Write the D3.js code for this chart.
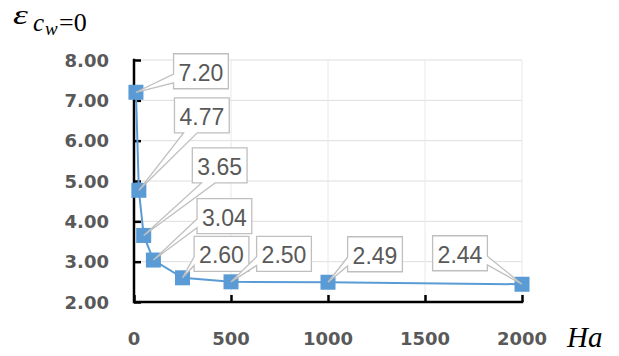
<!DOCTYPE html>
<html>
<head>
<meta charset="utf-8">
<script src="https://cdn.jsdelivr.net/npm/d3@7"></script>
<style>
  html, body { margin: 0; padding: 0; background: #fff; }
  svg { display: block; }
</style>
</head>
<body>
<svg id="chart" width="619" height="356"></svg>
<script>
// Hartmann number and the corresponding efficiency at c_w = 0
const haValues = [10, 25, 50, 100, 250, 500, 1000, 2000];
const epsValues = [7.20, 4.77, 3.65, 3.04, 2.60, 2.50, 2.49, 2.44];
const xTicks = [0, 500, 1000, 1500, 2000];
const yTicks = [2, 3, 4, 5, 6, 7, 8];

// Callout placement: box centre offset (px) from its marker
const calloutOffsets = [[65, -21], [63, -75], [76, -70], [71, -44], [39, -24], [53, -28], [47, -28], [-62, -31]];

const svg = d3.select("#chart");
const plotLeft = 134, plotRight = 522, plotTop = 60, plotBottom = 302;

const x = d3.scaleLinear().domain([0, 2000]).range([plotLeft, plotRight]);
const y = d3.scaleLinear().domain([2, 8]).range([plotBottom, plotTop]);

const blue = "#5B9BD5";
const labelGray = "#595959";

// gridlines
const grid = svg.append("g");
grid.selectAll("line.h").data(yTicks.slice(1)).join("line")
  .attr("class", "h")
  .attr("x1", plotLeft).attr("x2", plotRight)
  .attr("y1", d => y(d)).attr("y2", d => y(d))
  .attr("stroke", "#DEDEDE").attr("stroke-width", 1);
grid.selectAll("line.v").data(xTicks.slice(1)).join("line")
  .attr("class", "v")
  .attr("y1", plotTop).attr("y2", plotBottom)
  .attr("x1", d => x(d)).attr("x2", d => x(d))
  .attr("stroke", "#E8E8E8").attr("stroke-width", 1);

// axes with inward ticks
const xAxis = d3.axisTop(x).tickValues(xTicks).tickSize(7).tickFormat("");
const yAxis = d3.axisRight(y).tickValues(yTicks).tickSize(7).tickFormat("");

const gx = svg.append("g").attr("transform", `translate(0,${plotBottom})`).call(xAxis);
const gy = svg.append("g").attr("transform", `translate(${plotLeft},0)`).call(yAxis);
[gx, gy].forEach(g => {
  g.select(".domain").remove();
  g.selectAll(".tick line").attr("stroke", "#000").attr("stroke-width", 2.5);
});
// axis lines
svg.append("line").attr("x1", plotLeft).attr("x2", plotRight + 1.25).attr("y1", plotBottom).attr("y2", plotBottom)
  .attr("stroke", "#000").attr("stroke-width", 2.5);
svg.append("line").attr("x1", plotLeft).attr("x2", plotLeft).attr("y1", plotTop - 1.25).attr("y2", plotBottom + 1.25)
  .attr("stroke", "#000").attr("stroke-width", 2.5);

// tick labels
svg.append("g").selectAll("text").data(yTicks).join("text")
  .attr("x", 109).attr("y", d => y(d) + 6.6)
  .attr("text-anchor", "end")
  .attr("font-family", "DejaVu Sans").attr("font-weight", "bold").attr("font-size", 18)
  .attr("fill", labelGray)
  .text(d => d3.format(".2f")(d));
svg.append("g").selectAll("text").data(xTicks).join("text")
  .attr("x", d => x(d)).attr("y", 345)
  .attr("text-anchor", "middle")
  .attr("font-family", "DejaVu Sans").attr("font-weight", "bold").attr("font-size", 18)
  .attr("fill", labelGray)
  .text(d => d);

// axis titles
svg.append("text").attr("x", 567).attr("y", 347)
  .attr("font-family", "Liberation Serif").attr("font-style", "italic").attr("font-size", 29)
  .attr("fill", "#000").text("Ha");

// y title: ε with subscript c_w = 0
svg.append("text")
  .attr("transform", "translate(13,24) scale(1.4,1.05)")
  .attr("font-family", "Liberation Serif").attr("font-style", "italic").attr("font-size", 27)
  .attr("fill", "#000").text("ε");
const sub = svg.append("text").attr("font-family", "Liberation Serif").attr("fill", "#000");
sub.append("tspan").attr("x", 33).attr("y", 31).attr("font-style", "italic").attr("font-size", 25).text("c");
sub.append("tspan").attr("x", 45).attr("y", 35).attr("font-style", "italic").attr("font-size", 19).text("w");
sub.append("tspan").attr("x", 59).attr("y", 31).attr("font-size", 26).text("=0");

// data line and markers
const pts = haValues.map((h, i) => ({ h, v: epsValues[i], off: calloutOffsets[i] }));
svg.append("path").datum(pts)
  .attr("d", d3.line().x(d => x(d.h)).y(d => y(d.v)))
  .attr("fill", "none").attr("stroke", blue).attr("stroke-width", 2);

const ms = 15;
svg.append("g").selectAll("rect").data(pts).join("rect")
  .attr("x", d => x(d.h) - ms / 2).attr("y", d => y(d.v) - ms / 2)
  .attr("width", ms).attr("height", ms)
  .attr("fill", blue);

// rectangular callout with a wedge pointing to (tx, ty)
function calloutPath(l, t, w, h, tx, ty) {
  const r = l + w, b = t + h, hc = l + w / 2, vc = t + h / 2;
  const dxPos = tx - hc, dyPos = ty - vc;
  const dq = dxPos * h / w;
  const dz = Math.abs(dq) - Math.abs(dyPos);
  const x1 = l + w * (dxPos > 0 ? 7 : 2) / 12, x2 = l + w * (dxPos > 0 ? 10 : 5) / 12;
  const y1 = t + h * (dyPos > 0 ? 7 : 2) / 12, y2 = t + h * (dyPos > 0 ? 10 : 5) / 12;
  const xl = dz > 0 ? (dxPos > 0 ? l : tx) : l;
  const yl = dz > 0 ? (dxPos > 0 ? y1 : ty) : y1;
  const xt = dz > 0 ? x1 : (dyPos > 0 ? x1 : tx);
  const ytp = dz > 0 ? t : (dyPos > 0 ? t : ty);
  const xr = dz > 0 ? (dxPos > 0 ? tx : r) : r;
  const yr = dz > 0 ? (dxPos > 0 ? ty : y1) : y1;
  const xb = dz > 0 ? x1 : (dyPos > 0 ? tx : x1);
  const yb = dz > 0 ? b : (dyPos > 0 ? ty : b);
  return `M${l},${t}L${x1},${t}L${xt},${ytp}L${x2},${t}L${r},${t}L${r},${y1}L${xr},${yr}L${r},${y2}L${r},${b}` +
    `L${x2},${b}L${xb},${yb}L${x1},${b}L${l},${b}L${l},${y2}L${xl},${yl}L${l},${y1}Z`;
}

const labels = svg.append("g");
pts.forEach(d => {
  const mx = x(d.h), my = y(d.v);
  const cx = mx + d.off[0], cy = my + d.off[1];
  const g = labels.append("g");
  const path = g.append("path");
  const txt = g.append("text")
    .attr("x", cx).attr("y", cy + 9.6)
    .attr("text-anchor", "middle")
    .attr("font-family", "Liberation Sans").attr("font-size", 23)
    .attr("fill", labelGray)
    .text(d3.format(".2f")(d.v));
  const tw = txt.node().getComputedTextLength();
  const bw = tw + 10, bh = 35;
  path.attr("d", calloutPath(cx - bw / 2, cy - bh / 2, bw, bh, mx, my))
    .attr("fill", "#fff").attr("stroke", "#BFBFBF").attr("stroke-width", 1.3);
});
</script>
</body>
</html>
